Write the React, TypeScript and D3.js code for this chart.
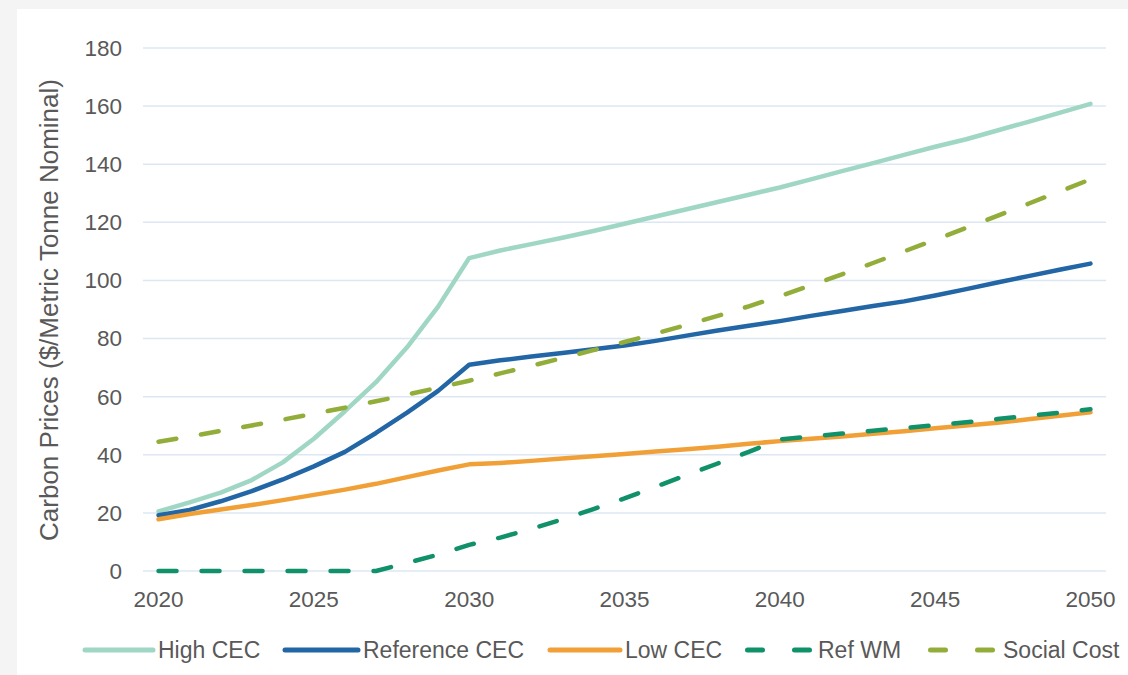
import React from "react";
import * as d3 from "d3";

const years = [
  2020, 2021, 2022, 2023, 2024, 2025, 2026, 2027, 2028, 2029, 2030,
  2031, 2032, 2033, 2034, 2035, 2036, 2037, 2038, 2039, 2040,
  2041, 2042, 2043, 2044, 2045, 2046, 2047, 2048, 2049, 2050,
];

const highCEC = [
  20.5, 23.6, 27, 31.3, 37.4, 45.5, 55, 65, 77, 91, 107.7,
  110.3, 112.5, 114.7, 117, 119.5, 122, 124.5, 127, 129.5, 132,
  134.8, 137.6, 140.4, 143.2, 146, 148.6, 151.6, 154.6, 157.7, 160.8,
];
const referenceCEC = [
  19.2, 21, 24, 27.5, 31.5, 36, 41, 47.5, 54.5, 62, 71,
  72.5, 73.8, 75, 76.3, 77.6, 79.2, 81, 82.8, 84.4, 86,
  87.8, 89.5, 91.2, 92.8, 94.8, 97, 99.3, 101.5, 103.7, 105.8,
];
const lowCEC = [
  17.8, 19.6, 21.2, 22.7, 24.4, 26.2, 28, 30, 32.3, 34.6, 36.7,
  37.2, 37.9, 38.7, 39.5, 40.3, 41.1, 41.9, 42.8, 43.8, 44.7,
  45.5, 46.3, 47.2, 48.1, 49.1, 50.1, 51, 52.2, 53.4, 54.6,
];
const refWM = [
  0, 0, 0, 0, 0, 0, 0, 0, 2.8, 5.6, 9,
  11.5, 14.5, 17.8, 21.3, 25, 29, 33, 37, 41, 45.3,
  46.3, 47.3, 48.3, 49.2, 50.2, 51.2, 52.3, 53.4, 54.5, 55.7,
];
const socialCost = [
  44.5, 46.3, 48.2, 50.1, 52.1, 54.1, 56.2, 58.4, 60.7, 63.1, 65.5,
  68, 70.6, 73.3, 76, 78.8, 81.7, 84.7, 87.8, 91.1, 94.6,
  98.3, 102.1, 106, 110, 114, 118.1, 122.2, 126.4, 130.6, 134.8,
];

const yTicks = [0, 20, 40, 60, 80, 100, 120, 140, 160, 180];
const xTickLabels = [2020, 2025, 2030, 2035, 2040, 2045, 2050];

const seriesNames = ["High CEC", "Reference CEC", "Low CEC", "Ref WM", "Social Cost"];
const seriesValues = [highCEC, referenceCEC, lowCEC, refWM, socialCost];
const seriesColors = ["#a0d7c4", "#2266a6", "#f1a038", "#119169", "#93ad3a"];
const seriesDashed = [false, false, false, true, true];

const FONT = "'Liberation Sans', Arial, sans-serif";
const TEXT = "#595959";

export default function App() {
  const W = 1128;
  const H = 675;
  const left = 143;
  const right = 1106;
  const top = 48;
  const bottom = 571;

  const x = d3.scalePoint<number>().domain(years).range([left, right]).padding(0.5);
  const y = d3.scaleLinear().domain([0, 180]).range([bottom, top]);

  const line = d3
    .line<number>()
    .x((_, i) => x(years[i]) as number)
    .y((d) => y(d));

  const legendItems = [
    { x1: 85, x2: 153, tx: 158 },
    { x1: 285, x2: 358, tx: 363 },
    { x1: 550, x2: 620, tx: 625 },
    { x1: 747.5, x2: 810.5, tx: 818 },
    { x1: 930.5, x2: 995.5, tx: 1003 },
  ];
  const legendY = 650;

  return (
    <svg
      width={W}
      height={H}
      style={{ position: "fixed", left: 0, top: 0, display: "block" }}
    >
      <rect x={0} y={0} width={W} height={H} fill="#f4f4f4" />
      <rect x={17} y={9} width={W - 17} height={H - 9} fill="#ffffff" />

      {yTicks.map((t) => (
        <g key={t}>
          <line
            x1={left}
            x2={right}
            y1={y(t)}
            y2={y(t)}
            stroke="#dce7f3"
            strokeWidth={1.5}
          />
          <text
            x={122}
            y={y(t)}
            dy="0.35em"
            textAnchor="end"
            fontFamily={FONT}
            fontSize={22.5}
            fill={TEXT}
          >
            {t}
          </text>
        </g>
      ))}

      {xTickLabels.map((yr) => (
        <text
          key={yr}
          x={x(yr) as number}
          y={607}
          textAnchor="middle"
          fontFamily={FONT}
          fontSize={22.5}
          fill={TEXT}
        >
          {yr}
        </text>
      ))}

      <text
        transform={`translate(58, 310) rotate(-90)`}
        textAnchor="middle"
        fontFamily={FONT}
        fontSize={26}
        fill={TEXT}
      >
        Carbon Prices ($/Metric Tonne Nominal)
      </text>

      {seriesValues.map((vals, i) => (
        <path
          key={seriesNames[i]}
          d={line(vals) || ""}
          fill="none"
          stroke={seriesColors[i]}
          strokeWidth={4.5}
          strokeLinejoin="round"
          strokeLinecap="round"
          strokeDasharray={seriesDashed[i] ? "18 25" : undefined}
        />
      ))}

      {legendItems.map((it, i) => (
        <g key={seriesNames[i]}>
          <line
            x1={it.x1}
            x2={it.x2}
            y1={legendY}
            y2={legendY}
            stroke={seriesColors[i]}
            strokeWidth={5}
            strokeLinecap="round"
            strokeDasharray={seriesDashed[i] ? "15 32" : undefined}
          />
          <text
            x={it.tx}
            y={legendY}
            dy="0.35em"
            fontFamily={FONT}
            fontSize={23}
            fill={TEXT}
          >
            {seriesNames[i]}
          </text>
        </g>
      ))}
    </svg>
  );
}
